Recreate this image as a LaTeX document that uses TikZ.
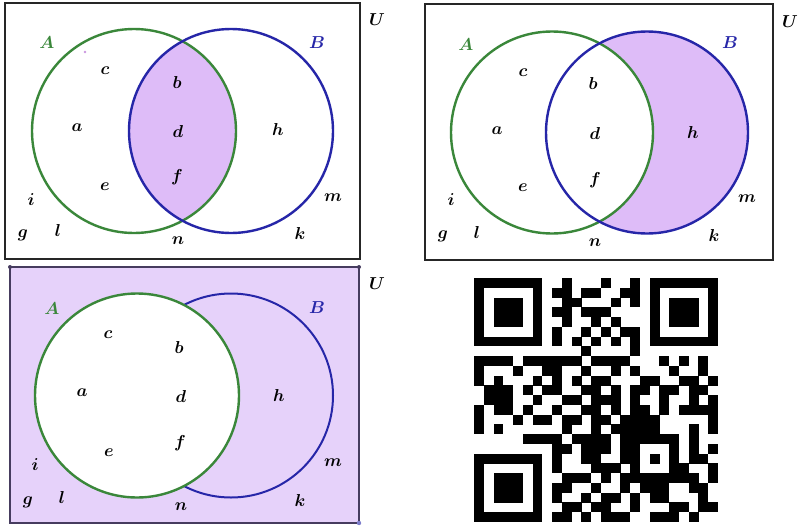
\documentclass[tikz,border=0pt]{standalone}
\usepackage{amsmath}
\definecolor{lav}{RGB}{222,188,248}
\definecolor{lavlight}{RGB}{230,210,250}
\definecolor{vgreen}{RGB}{58,135,58}
\definecolor{vblue}{RGB}{38,38,168}
\definecolor{frame3col}{RGB}{70,60,95}
\tikzset{
  lbl/.style={font=\fontsize{17}{20}\selectfont, inner sep=0pt},
  circA/.style={draw=vgreen, line width=2.4pt},
  circB/.style={draw=vblue, line width=2.4pt},
  framebox/.style={draw=black!85, line width=1.6pt},
  framebox3/.style={draw=frame3col, line width=1.2pt},
}
\newcount\qrcol
\def\qrcell{\fill[black] ({474+9.76*\the\qrcol},{278+9.76*\qrr}) rectangle ++(9.9,9.9);}
\def\qrrow#1#2{\qrcol=0 \def\qrr{#1}\qrparse#2\relax}
\def\qrparse#1{\ifx#1\relax\else\if1#1\qrcell\fi\advance\qrcol by 1 \expandafter\qrparse\fi}
\begin{document}
\begin{tikzpicture}[x=1pt,y=-1pt]
\useasboundingbox (0,0) rectangle (800,525);
\fill[white] (0,0) rectangle (800,525);

% ---------- Panel 1: A intersect B ----------
\coordinate (A1) at (134,131);
\coordinate (B1) at (231,131);
\begin{scope}
  \clip (A1) circle (102pt);
  \fill[lav] (B1) circle (102pt);
\end{scope}
\draw[circA] (A1) circle (102pt);
\draw[circB] (B1) circle (102pt);
\draw[framebox] (5,3) rectangle (360,259);
\fill[lav!80!violet] (85,52) circle (1.3pt);
\node[lbl, text=vgreen] (p1A) at (47,43) {$\boldsymbol{A}$};
\node[lbl, text=vblue] (p1B) at (317,43) {$\boldsymbol{B}$};
\node[lbl] (p1U) at (377,20) {$\boldsymbol{U}$};
\node[lbl] (p1c) at (105,71) {$\boldsymbol{c}$};
\node[lbl] (p1b) at (177,82) {$\boldsymbol{b}$};
\node[lbl] (p1a) at (77,128) {$\boldsymbol{a}$};
\node[lbl] (p1d) at (178,131) {$\boldsymbol{d}$};
\node[lbl] (p1h) at (278,129) {$\boldsymbol{h}$};
\node[lbl] (p1f) at (177,177) {$\boldsymbol{f}$};
\node[lbl] (p1e) at (105,187) {$\boldsymbol{e}$};
\node[lbl] (p1i) at (31,200) {$\boldsymbol{i}$};
\node[lbl] (p1m) at (333,198) {$\boldsymbol{m}$};
\node[lbl] (p1g) at (23,235) {$\boldsymbol{g}$};
\node[lbl] (p1l) at (58,230) {$\boldsymbol{l}$};
\node[lbl] (p1n) at (178,241) {$\boldsymbol{n}$};
\node[lbl] (p1k) at (300,233) {$\boldsymbol{k}$};

% ---------- Panel 2: B minus A ----------
\coordinate (A2) at (552,132.5);
\coordinate (B2) at (647,132.5);
\fill[lav] (B2) circle (101pt);
\fill[white] (A2) circle (101pt);
\draw[circA] (A2) circle (101pt);
\draw[circB] (B2) circle (101pt);
\draw[framebox] (425,4) rectangle (773,260);
\node[lbl, text=vgreen] (p2A) at (466,45) {$\boldsymbol{A}$};
\node[lbl, text=vblue] (p2B) at (730,43) {$\boldsymbol{B}$};
\node[lbl] (p2U) at (790,22) {$\boldsymbol{U}$};
\node[lbl] (p2c) at (523,73) {$\boldsymbol{c}$};
\node[lbl] (p2b) at (593,83) {$\boldsymbol{b}$};
\node[lbl] (p2a) at (497,131) {$\boldsymbol{a}$};
\node[lbl] (p2d) at (595,133) {$\boldsymbol{d}$};
\node[lbl] (p2h) at (693,132) {$\boldsymbol{h}$};
\node[lbl] (p2f) at (595,180) {$\boldsymbol{f}$};
\node[lbl] (p2e) at (523,188) {$\boldsymbol{e}$};
\node[lbl] (p2i) at (451,200) {$\boldsymbol{i}$};
\node[lbl] (p2m) at (747,199) {$\boldsymbol{m}$};
\node[lbl] (p2g) at (443,236) {$\boldsymbol{g}$};
\node[lbl] (p2l) at (477,232) {$\boldsymbol{l}$};
\node[lbl] (p2n) at (595,243) {$\boldsymbol{n}$};
\node[lbl] (p2k) at (714,235) {$\boldsymbol{k}$};

% ---------- Panel 3: complement of A ----------
\coordinate (A3) at (137,395.5);
\coordinate (B3) at (231,395.5);
\fill[lavlight] (10,267) rectangle (359,523);
\draw[framebox3] (10,267) rectangle (359,523);
\draw[circB, line width=2pt] (B3) circle (102pt);
\fill[white] (A3) circle (102pt);
\draw[circA] (A3) circle (102pt);
\fill[frame3col] (10,267) circle (2pt);
\fill[frame3col] (359,267) circle (2pt);
\fill[vblue!60] (359,523) circle (2.2pt);
\node[lbl, text=vgreen] (p3A) at (52,309) {$\boldsymbol{A}$};
\node[lbl, text=vblue] (p3B) at (317,308) {$\boldsymbol{B}$};
\node[lbl] (p3U) at (377,284) {$\boldsymbol{U}$};
\node[lbl] (p3c) at (108,335) {$\boldsymbol{c}$};
\node[lbl] (p3b) at (179,347) {$\boldsymbol{b}$};
\node[lbl] (p3a) at (82,393) {$\boldsymbol{a}$};
\node[lbl] (p3d) at (181,396) {$\boldsymbol{d}$};
\node[lbl] (p3h) at (279,395) {$\boldsymbol{h}$};
\node[lbl] (p3f) at (180,443) {$\boldsymbol{f}$};
\node[lbl] (p3e) at (109,453) {$\boldsymbol{e}$};
\node[lbl] (p3i) at (35,465) {$\boldsymbol{i}$};
\node[lbl] (p3m) at (333,463) {$\boldsymbol{m}$};
\node[lbl] (p3g) at (28,502) {$\boldsymbol{g}$};
\node[lbl] (p3l) at (62,497) {$\boldsymbol{l}$};
\node[lbl] (p3n) at (181,507) {$\boldsymbol{n}$};
\node[lbl] (p3k) at (300,500) {$\boldsymbol{k}$};

% ---------- QR code ----------
\qrrow{0}{1111111001000100101111111}
\qrrow{1}{1000001011011001101000001}
\qrrow{2}{1011101001100010101011101}
\qrrow{3}{1011101011011100001011101}
\qrrow{4}{1011101001001010001011101}
\qrrow{5}{1000001010010101101000001}
\qrrow{6}{1111111010101010101111111}
\qrrow{7}{0000000000010000100000000}
\qrrow{8}{1111011111101111000101010}
\qrrow{9}{1000100110010010100010010}
\qrrow{10}{1010001010101100011001101}
\qrrow{11}{0111010110011010110110110}
\qrrow{12}{0111001001101110100100101}
\qrrow{13}{1011010010011010110101111}
\qrrow{14}{1000101101101101111000001}
\qrrow{15}{1010000001001011111000101}
\qrrow{16}{0000011110111101111110100}
\qrrow{17}{0000000011011101100010101}
\qrrow{18}{1111111010011001101010110}
\qrrow{19}{1000001010001110100011001}
\qrrow{20}{1011101001110101111111101}
\qrrow{21}{1011101011001001011100110}
\qrrow{22}{1011101010010110101100010}
\qrrow{23}{1000001001101100100011011}
\qrrow{24}{1111111011010111001110100}
\end{tikzpicture}
\end{document}
